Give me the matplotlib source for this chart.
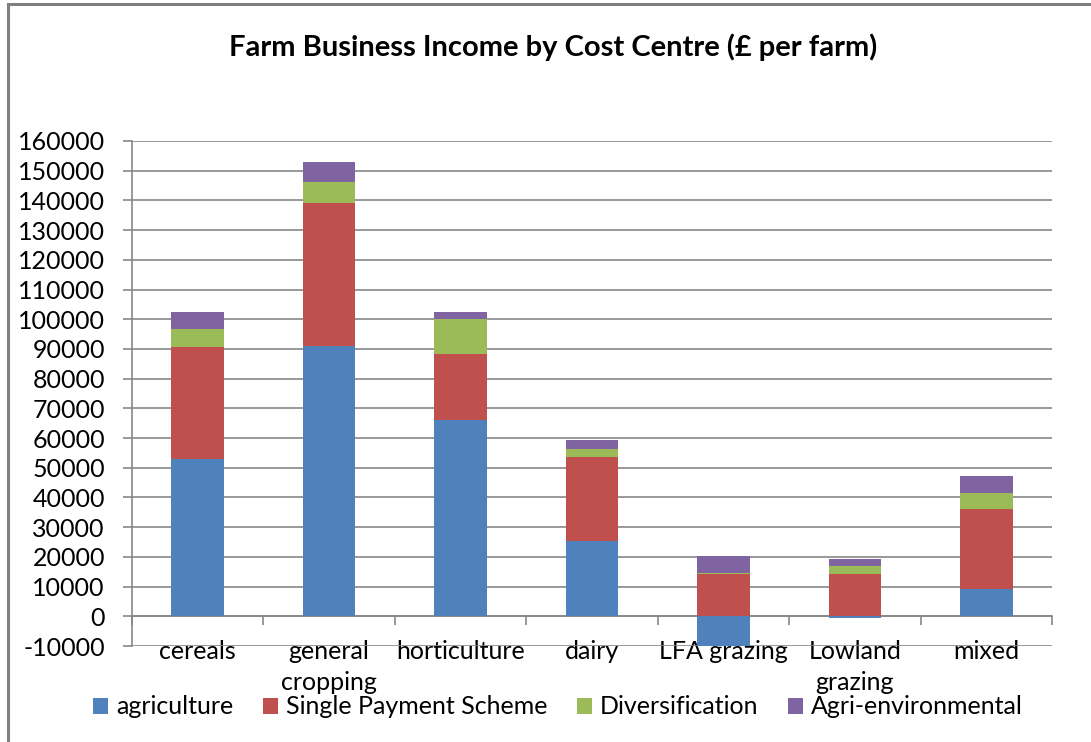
import matplotlib.pyplot as plt
import numpy as np
from matplotlib.lines import Line2D
from matplotlib.ticker import MultipleLocator, FixedLocator

plt.rcParams['font.family'] = ['Lato', 'DejaVu Sans']
plt.rcParams['axes.unicode_minus'] = False

centres = ['cereals', 'general\ncropping', 'horticulture', 'dairy',
           'LFA grazing', 'Lowland\ngrazing', 'mixed']
agriculture = [52900, 91100, 66200, 25200, -10300, -600, 9250]
single_payment = [37900, 48000, 22000, 28500, 14100, 14400, 26800]
diversification = [5900, 7200, 12000, 2550, 450, 2600, 5500]
agri_env = [5750, 6600, 2250, 3050, 5900, 2250, 5650]

series = [('agriculture', agriculture, '#4F81BD'),
          ('Single Payment Scheme', single_payment, '#C0504D'),
          ('Diversification', diversification, '#9BBB59'),
          ('Agri-environmental', agri_env, '#8064A2')]

W, H = 1091, 742
fig = plt.figure(figsize=(W / 100, H / 100), dpi=100)
ax = fig.add_axes([132 / W, 1 - 646 / H, (1052 - 132) / W, (646 - 141) / H])

x = np.arange(len(centres))
pos_base = np.zeros(len(centres))
neg_base = np.zeros(len(centres))
for name, vals, col in series:
    vals = np.array(vals, dtype=float)
    # positives stack up from zero, negatives stack down from zero
    base = np.where(vals >= 0, pos_base, neg_base)
    ax.bar(x, vals, 0.4, bottom=base, color=col, label=name, zorder=3)
    pos_base = pos_base + np.clip(vals, 0, None)
    neg_base = neg_base + np.clip(vals, None, 0)

ax.set_xlim(-0.5, len(centres) - 0.5)
ax.set_ylim(-10000, 160000)
ax.yaxis.set_major_locator(MultipleLocator(10000))
ax.grid(axis='y', color='#878787', linewidth=1.2, zorder=0)

for side in ['top', 'right']:
    ax.spines[side].set_visible(False)
ax.spines['left'].set_color('#878787')
ax.spines['left'].set_linewidth(1.2)
ax.spines['bottom'].set_position(('data', 0))
ax.spines['bottom'].set_color('#878787')
ax.spines['bottom'].set_linewidth(1.2)

ax.set_xticks(x)
ax.set_xticklabels(centres, fontsize=18, linespacing=1.45, va='top')
ax.xaxis.set_minor_locator(FixedLocator(np.arange(len(centres) + 1) - 0.5))
ax.tick_params(axis='x', which='major', length=0, pad=17)
ax.tick_params(axis='x', which='minor', length=6.5, color='#878787', width=1.2)
ax.tick_params(axis='y', length=6.5, color='#878787', width=1.2, labelsize=18, pad=13)

fig.text(553 / W, 1 - 47 / H, 'Farm Business Income by Cost Centre (£ per farm)',
         fontsize=21, fontweight='bold', ha='center', va='center')

fig.legend(loc='center', bbox_to_anchor=(558 / W, 1 - 707 / H), ncol=4,
           frameon=False, fontsize=18, handlelength=0.6, handleheight=0.6,
           handletextpad=0.3, columnspacing=1.2, borderaxespad=0)

# outer chart border
fig.add_artist(Line2D([8 / W, 8 / W], [0, 1 - 4 / H], color='#7f7f7f', lw=2.2))
fig.add_artist(Line2D([8 / W, 1], [1 - 4 / H, 1 - 4 / H], color='#7f7f7f', lw=2.2))

fig.savefig('out.png', dpi=100)
